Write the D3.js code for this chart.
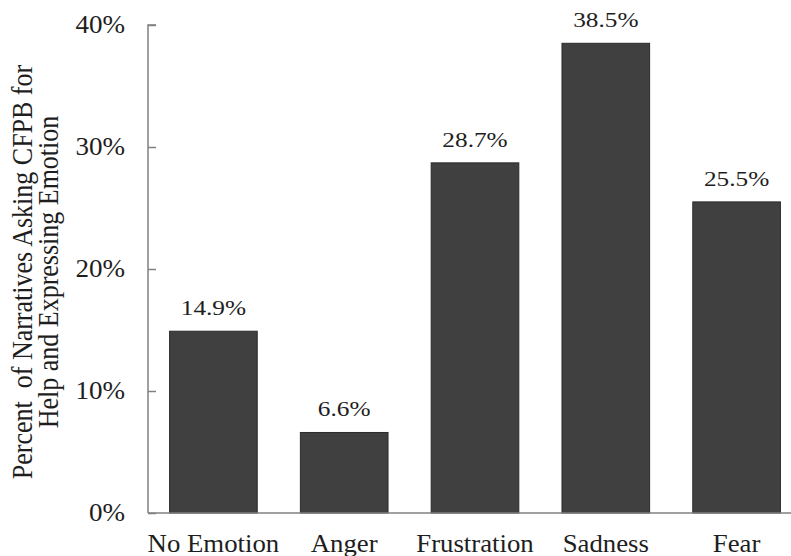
<!DOCTYPE html>
<html>
<head>
<meta charset="utf-8">
<script src="https://cdn.jsdelivr.net/npm/d3@7"></script>
<style>
  body { margin: 0; background: #fff; }
  svg { display: block; }
  text { font-family: "Liberation Serif", "Times New Roman", serif; fill: #1e1e1e; }
</style>
</head>
<body>
<svg id="chart" width="791" height="556"></svg>
<script>
const categories = ["No Emotion", "Anger", "Frustration", "Sadness", "Fear"];
const values = [14.9, 6.6, 28.7, 38.5, 25.5];
const valueLabels = ["14.9%", "6.6%", "28.7%", "38.5%", "25.5%"];
const yTicks = [0, 10, 20, 30, 40];
const yTickLabels = ["0%", "10%", "20%", "30%", "40%"];
const titleLines = ["Percent  of Narratives Asking CFPB for", "Help and Expressing Emotion"];

const svg = d3.select("#chart");
const W = 791, H = 556;
const axisX = 148, y0 = 513, yTop = 25;

const x = d3.scaleBand().domain(categories).range([axisX, 802]).paddingInner(0.33).paddingOuter(0.165);
const y = d3.scaleLinear().domain([0, 40]).range([y0, yTop]);

// bars
svg.selectAll("rect.bar").data(categories).join("rect")
  .attr("class", "bar")
  .attr("x", d => x(d))
  .attr("width", x.bandwidth())
  .attr("y", (d, i) => y(values[i]))
  .attr("height", (d, i) => y(0) - y(values[i]))
  .attr("fill", "#404040")
  .attr("stroke", "#2a2a2a")
  .attr("stroke-width", 1);

// value labels
svg.selectAll("g.val").data(categories).join("g")
  .attr("class", "val")
  .attr("transform", (d, i) => `translate(${x(d) + x.bandwidth() / 2},${y(values[i]) - 16}) scale(1.15,1)`)
  .append("text")
  .attr("text-anchor", "middle")
  .attr("font-size", 22)
  .text((d, i) => valueLabels[i]);

// y axis
const yAxis = d3.axisRight(y).tickValues(yTicks).tickSize(8).tickFormat("");
const gy = svg.append("g").attr("transform", `translate(${axisX},0)`).call(yAxis);
gy.selectAll("path, line").attr("stroke", "#808080").attr("stroke-width", 1.5);
gy.select("path").attr("d", `M8,${yTop}H0V${y0}`);

svg.selectAll("g.ytick").data(yTicks).join("g")
  .attr("class", "ytick")
  .attr("transform", d => `translate(125,${y(d) + 8.3}) scale(1.1,1)`)
  .append("text")
  .attr("text-anchor", "end")
  .attr("font-size", 24.6)
  .text((d, i) => yTickLabels[i]);

// x axis
const xAxis = d3.axisBottom(x).tickSize(0).tickFormat("");
const gx = svg.append("g").attr("transform", `translate(0,${y0})`).call(xAxis);
gx.select("path").attr("d", `M${axisX},0H${W}`).attr("stroke", "#808080").attr("stroke-width", 1.5);

svg.selectAll("g.cat").data(categories).join("g")
  .attr("class", "cat")
  .attr("transform", d => `translate(${x(d) + x.bandwidth() / 2},551.5) scale(1.03,1)`)
  .append("text")
  .attr("text-anchor", "middle")
  .attr("font-size", 26)
  .text(d => d);

// y title
const title = svg.append("g").attr("transform", "translate(0,272) rotate(-90)");
title.selectAll("text").data(titleLines).join("text")
  .attr("transform", (d, i) => `translate(0,${32 + i * 25.5}) scale(1,1.12)`)
  .attr("text-anchor", "middle")
  .attr("font-size", 26)
  .style("white-space", "pre")
  .text(d => d);
</script>
</body>
</html>
